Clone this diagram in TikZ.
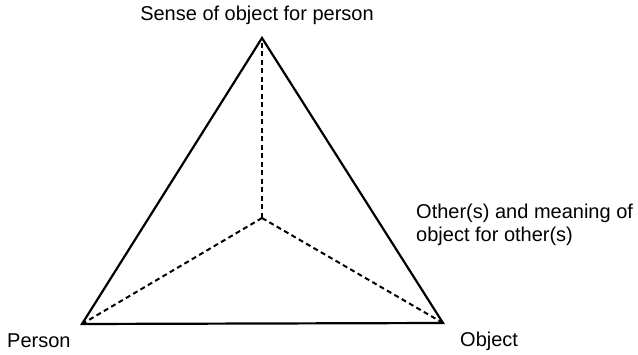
\documentclass[tikz,border=0pt]{standalone}
\usepackage{fontspec}
\setmainfont{Liberation Sans}
\begin{document}
\begin{tikzpicture}[x=1pt,y=-1pt,
  edge/.style={line width=2.2pt, line join=miter},
  hidden/.style={line width=2pt, dash pattern=on 5pt off 3.5pt},
  lbl/.style={inner sep=0pt, font=\fontsize{20}{23}\selectfont}]
\useasboundingbox (0,0) rectangle (638,355);
\coordinate (apex) at (262,38);
\coordinate (pv) at (82,324);
\coordinate (ov) at (443,323);
\coordinate (ctr) at (262,218);
\draw[edge] (apex) -- (pv) -- (ov) -- cycle;
\draw[hidden] (ctr) -- (apex);
\draw[hidden] (ctr) -- (pv);
\draw[hidden] (ctr) -- (ov);
\node[lbl, anchor=base] (sense) at (257,21) {Sense of object for person};
\node[lbl, anchor=base west] (person) at (7,348) {Person};
\node[lbl, anchor=base west] (object) at (460,347) {Object};
\node[lbl, anchor=base west] (other1) at (416,219) {Other(s) and meaning of};
\node[lbl, anchor=base west] (other2) at (416,242) {object for other(s)};
\end{tikzpicture}
\end{document}
